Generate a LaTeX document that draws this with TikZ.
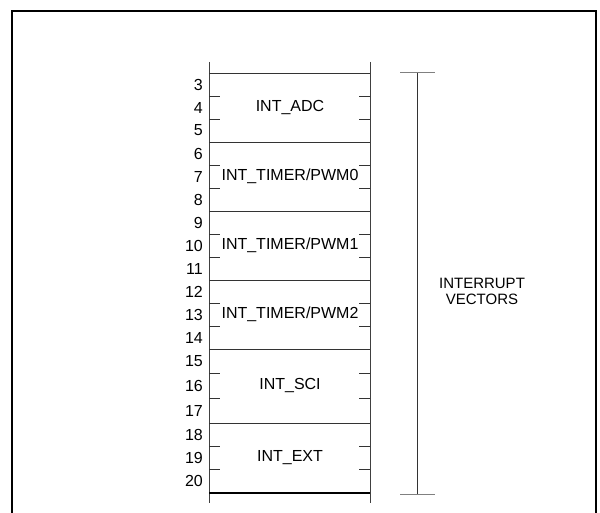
\documentclass[tikz,border=0pt]{standalone}
\usepackage{fontspec}
\setmainfont{Liberation Sans}
\begin{document}
\begin{tikzpicture}[x=1pt, y=-1pt, font=\fontsize{16}{18}\selectfont,
  wall/.style={draw=black!75, line width=0.9pt},
  rule/.style={draw=black!80, line width=0.8pt},
  rowno/.style={anchor=east, inner sep=0pt},
  vect/.style={inner sep=0pt}]
\useasboundingbox (0,0) rectangle (600,513);
% frame
\draw[line width=2pt] (12,513) -- (12,11) -- (596,11) -- (596,513);
% column walls
\coordinate (lt) at (209,62);
\coordinate (lb) at (209,503);
\coordinate (rt) at (370,62);
\coordinate (rb) at (370,503);
\draw[wall] (lt) -- (lb);
\draw[wall] (rt) -- (rb);
% vector blocks
\foreach \top/\bot/\name/\lbl [count=\i] in {
    73/142/adc/{INT\_ADC},
    142/211/pwma/{INT\_TIMER/PWM0},
    211/280/pwmb/{INT\_TIMER/PWM1},
    280/349/pwmc/{INT\_TIMER/PWM2},
    349/423/sci/{INT\_SCI},
    423/493/ext/{INT\_EXT}} {
  \pgfmathsetmacro\h{(\bot-\top)/3}
  \pgfmathtruncatemacro\n{3*\i}
  \draw[rule] (209,\top) -- (370,\top);
  \node[vect] (\name) at (290,{(\top+\bot)/2}) {\lbl};
  \foreach \k in {1,2} {
    \draw[rule] (209,{\top+\k*\h}) -- ++(11,0);
    \draw[rule] (370,{\top+\k*\h}) -- ++(-11,0);
  }
  \foreach \k in {0,1,2} {
    \pgfmathtruncatemacro\m{\n+\k}
    \node[rowno] (no\m) at (203,{\top+(\k+0.5)*\h}) {\m};
  }
}
\draw[draw=black, line width=1.4pt] (209,493) -- (370,493);
% bracket
\coordinate (bt) at (417,73);
\coordinate (bb) at (417,494);
\draw[draw=black!50, line width=1pt] (400,73) -- (435,73);
\draw[draw=black!50, line width=1pt] (400,494) -- (435,494);
\draw[draw=black!80, line width=0.8pt] (bt) -- (bb);
\node[align=center, inner sep=0pt, font=\fontsize{15}{16}\selectfont] (vectors) at (482,291) {INTERRUPT\\VECTORS};
\end{tikzpicture}
\end{document}
